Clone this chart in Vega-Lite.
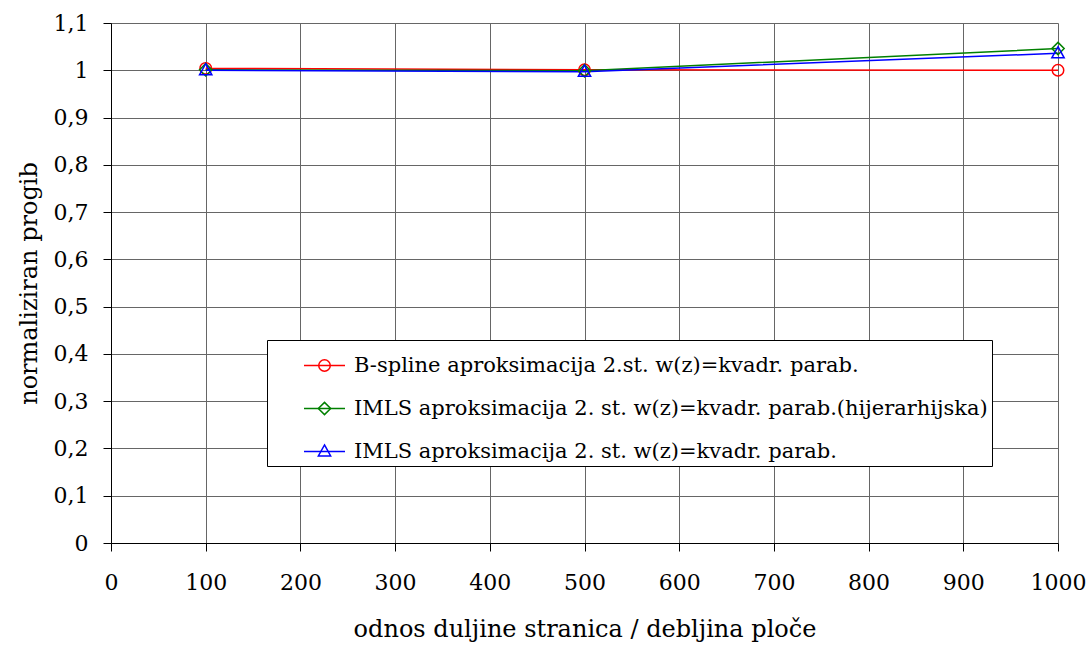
{
  "$schema": "https://vega.github.io/schema/vega-lite/v6.json",
  "autosize": {"type": "none"},
  "padding": {"left": 111, "top": 23, "right": 30, "bottom": 105},
  "width": 947,
  "height": 520,
  "background": "white",
  "config": {
    "view": {"stroke": null},
    "font": "DejaVu Serif",
    "axis": {
      "labelFont": "DejaVu Serif",
      "titleFont": "DejaVu Serif",
      "labelFontSize": 22,
      "titleFontSize": 24,
      "titleFontWeight": "normal",
      "labelColor": "black",
      "titleColor": "black",
      "domainColor": "black",
      "tickColor": "black",
      "tickSize": 8,
      "labelFlush": false,
      "labelOverlap": false,
      "gridColor": "#666666",
      "gridOpacity": 1,
      "gridWidth": 1
    }
  },
  "data": {
    "values": [
      {"x": 100, "y": 1.004, "series": "B-spline aproksimacija 2.st. w(z)=kvadr. parab."},
      {"x": 500, "y": 1.001, "series": "B-spline aproksimacija 2.st. w(z)=kvadr. parab."},
      {"x": 1000, "y": 1.0, "series": "B-spline aproksimacija 2.st. w(z)=kvadr. parab."},
      {"x": 100, "y": 1.001, "series": "IMLS aproksimacija 2. st. w(z)=kvadr. parab.(hijerarhijska)"},
      {"x": 500, "y": 0.999, "series": "IMLS aproksimacija 2. st. w(z)=kvadr. parab.(hijerarhijska)"},
      {"x": 1000, "y": 1.046, "series": "IMLS aproksimacija 2. st. w(z)=kvadr. parab.(hijerarhijska)"},
      {"x": 100, "y": 1.0, "series": "IMLS aproksimacija 2. st. w(z)=kvadr. parab."},
      {"x": 500, "y": 0.997, "series": "IMLS aproksimacija 2. st. w(z)=kvadr. parab."},
      {"x": 1000, "y": 1.036, "series": "IMLS aproksimacija 2. st. w(z)=kvadr. parab."}
    ]
  },
  "encoding": {
    "x": {
      "field": "x", "type": "quantitative",
      "scale": {"domain": [0, 1000], "nice": false, "zero": false},
      "axis": {
        "values": [0, 100, 200, 300, 400, 500, 600, 700, 800, 900, 1000],
        "format": "d",
        "title": "odnos duljine stranica / debljina ploče",
        "labelPadding": 21,
        "titlePadding": 24,
        "grid": true
      }
    },
    "y": {
      "field": "y", "type": "quantitative",
      "scale": {"domain": [0, 1.1], "nice": false, "zero": false},
      "axis": {
        "values": [0, 0.1, 0.2, 0.3, 0.4, 0.5, 0.6, 0.7, 0.8, 0.9, 1, 1.1],
        "labelExpr": "datum.value == 0 ? '0' : (abs(datum.value - 1) < 0.001 ? '1' : replace(format(datum.value, '.1f'), '.', ','))",
        "title": "normaliziran progib",
        "labelPadding": 15,
        "titlePadding": 12,
        "grid": true
      }
    }
  },
  "layer": [
    {
      "mark": {"type": "line", "strokeWidth": 1.5},
      "encoding": {
        "color": {
          "field": "series", "type": "nominal",
          "scale": {
            "domain": [
              "B-spline aproksimacija 2.st. w(z)=kvadr. parab.",
              "IMLS aproksimacija 2. st. w(z)=kvadr. parab.(hijerarhijska)",
              "IMLS aproksimacija 2. st. w(z)=kvadr. parab."
            ],
            "range": ["#ff0000", "#008000", "#0000ff"]
          },
          "legend": {
            "title": null,
            "orient": "none",
            "legendX": 156,
            "legendY": 317,
            "direction": "vertical",
            "strokeColor": "black",
            "fillColor": "white",
            "padding": 4,
            "labelFont": "DejaVu Serif",
            "labelFontSize": 21,
            "labelColor": "black",
            "labelLimit": 1000,
            "labelOffset": 8,
            "labelExpr": "datum.label + '  '",
            "symbolOffset": 32,
            "symbolType": "stroke",
            "symbolSize": 1681,
            "symbolStrokeWidth": 1.5,
            "rowPadding": 11
          }
        }
      }
    },
    {
      "mark": {"type": "point", "filled": false, "size": 1681, "strokeWidth": 1.5, "opacity": 1},
      "encoding": {
        "stroke": {
          "field": "series", "type": "nominal",
          "scale": {
            "domain": [
              "IMLS aproksimacija 2. st. w(z)=kvadr. parab.",
              "IMLS aproksimacija 2. st. w(z)=kvadr. parab.(hijerarhijska)",
              "B-spline aproksimacija 2.st. w(z)=kvadr. parab."
            ],
            "range": ["#0000ff", "#008000", "#ff0000"]
          },
          "legend": {
            "title": null,
            "orient": "none",
            "legendX": 156,
            "legendY": 317,
            "direction": "vertical",
            "values": [
              "B-spline aproksimacija 2.st. w(z)=kvadr. parab.",
              "IMLS aproksimacija 2. st. w(z)=kvadr. parab.(hijerarhijska)",
              "IMLS aproksimacija 2. st. w(z)=kvadr. parab."
            ],
            "padding": 4,
            "labelFont": "DejaVu Serif",
            "labelFontSize": 21,
            "labelOpacity": 0,
            "labelLimit": 1000,
            "labelOffset": 8,
            "labelExpr": "datum.label + '  '",
            "symbolOffset": 32,
            "symbolSize": 1681,
            "symbolStrokeWidth": 1.5,
            "symbolFillColor": "white",
            "rowPadding": 11
          }
        },
        "shape": {
          "field": "series", "type": "nominal",
          "scale": {
            "domain": [
              "IMLS aproksimacija 2. st. w(z)=kvadr. parab.",
              "IMLS aproksimacija 2. st. w(z)=kvadr. parab.(hijerarhijska)",
              "B-spline aproksimacija 2.st. w(z)=kvadr. parab."
            ],
            "range": [
              "M0,-0.32L0.3,0.22L-0.3,0.22Z",
              "M0,-0.3L0.3,0L0,0.3L-0.3,0Z",
              "M0.28,0A0.28,0.28 0 1,1 -0.28,0A0.28,0.28 0 1,1 0.28,0Z"
            ]
          },
          "legend": {
            "title": null,
            "orient": "none",
            "legendX": 156,
            "legendY": 317,
            "direction": "vertical",
            "values": [
              "B-spline aproksimacija 2.st. w(z)=kvadr. parab.",
              "IMLS aproksimacija 2. st. w(z)=kvadr. parab.(hijerarhijska)",
              "IMLS aproksimacija 2. st. w(z)=kvadr. parab."
            ],
            "padding": 4,
            "labelFont": "DejaVu Serif",
            "labelFontSize": 21,
            "labelOpacity": 0,
            "labelLimit": 1000,
            "labelOffset": 8,
            "labelExpr": "datum.label + '  '",
            "symbolOffset": 32,
            "symbolSize": 1681,
            "symbolStrokeWidth": 1.5,
            "symbolFillColor": "white",
            "rowPadding": 11
          }
        }
      }
    }
  ]
}
